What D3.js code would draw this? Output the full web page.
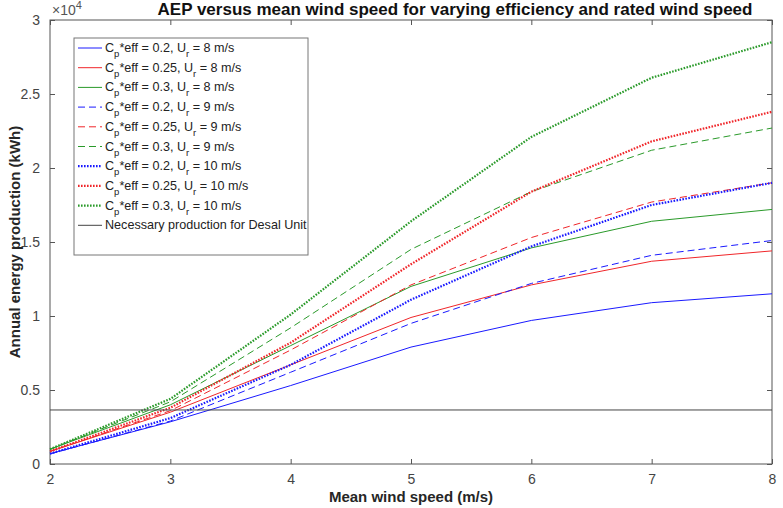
<!DOCTYPE html>
<html>
<head>
<meta charset="utf-8">
<script src="https://cdn.jsdelivr.net/npm/d3@7"></script>
<style>
  body { margin: 0; background: #fff; }
  text { font-family: "Liberation Sans", Arial, sans-serif; }
</style>
</head>
<body>
<svg width="783" height="508"></svg>
<script>
// mean wind speed (m/s)
var windSpeed = [2, 3, 4, 5, 6, 7, 8];

// AEP (kWh)
var cp02_ur8  = [700, 2850, 5300, 7900, 9700, 10900, 11500];
var cp025_ur8 = [850, 3500, 6700, 9900, 12100, 13700, 14400];
var cp03_ur8  = [1000, 4000, 8000, 12000, 14600, 16400, 17200];
var cp02_ur9  = [680, 2900, 6200, 9500, 12200, 14100, 15100];
var cp025_ur9 = [850, 3600, 7700, 12100, 15300, 17700, 19000];
var cp03_ur9  = [1000, 4200, 9200, 14500, 18400, 21200, 22700];
var cp02_ur10  = [700, 3100, 6700, 11100, 14700, 17500, 19000];
var cp025_ur10 = [850, 3800, 8200, 13500, 18400, 21800, 23800];
var cp03_ur10  = [1000, 4400, 10100, 16400, 22100, 26100, 28500];

var desalNeed = 3650;

var xTicks = [2, 3, 4, 5, 6, 7, 8];
var yTicks = [0, 5000, 10000, 15000, 20000, 25000, 30000];

var seriesNames = [
  {cp: '0.2', ur: '8'}, {cp: '0.25', ur: '8'}, {cp: '0.3', ur: '8'},
  {cp: '0.2', ur: '9'}, {cp: '0.25', ur: '9'}, {cp: '0.3', ur: '9'},
  {cp: '0.2', ur: '10'}, {cp: '0.25', ur: '10'}, {cp: '0.3', ur: '10'}
];
var seriesValues = [cp02_ur8, cp025_ur8, cp03_ur8, cp02_ur9, cp025_ur9, cp03_ur9,
                    cp02_ur10, cp025_ur10, cp03_ur10];

var colors = ['#1a1aff', '#f0262a', '#2a9a2a'];
// style per rated speed: solid, dashed, dotted
var dashes = [null, '7,4', '1.6,1.4'];
var widths = [1, 1, 2.2];

var svg = d3.select('svg');

var x = d3.scaleLinear().domain([2, 8]).range([50, 772]);
var y = d3.scaleLinear().domain([0, 30000]).range([464, 20]);

var axisColor = '#555';

// box
svg.append('rect')
  .attr('x', 50).attr('y', 20)
  .attr('width', 722).attr('height', 444)
  .attr('fill', 'none')
  .attr('stroke', axisColor)
  .attr('stroke-width', 1);

// x axis (ticks pointing inward)
var xAxis = d3.axisBottom(x).tickValues(xTicks).tickSizeInner(-5).tickSizeOuter(0)
  .tickPadding(10).tickFormat(d3.format('d'));
var gx = svg.append('g').attr('transform', 'translate(0,464)').call(xAxis);
var gxTop = svg.append('g').attr('transform', 'translate(0,20)')
  .call(d3.axisTop(x).tickValues(xTicks).tickSizeInner(-5).tickSizeOuter(0).tickFormat(''));

// y axis
var yAxis = d3.axisLeft(y).tickValues(yTicks).tickSizeInner(-5).tickSizeOuter(0).tickPadding(10)
  .tickFormat(d => d === 0 ? '0' : d3.format('')(d / 10000));
var gy = svg.append('g').attr('transform', 'translate(50,0)').call(yAxis);
var gyRight = svg.append('g').attr('transform', 'translate(772,0)')
  .call(d3.axisRight(y).tickValues(yTicks).tickSizeInner(-5).tickSizeOuter(0).tickFormat(''));

[gx, gxTop, gy, gyRight].forEach(function(g) {
  g.select('.domain').remove();
  g.selectAll('line').attr('stroke', axisColor);
  g.selectAll('text').attr('fill', '#444').style('font-size', '14px')
    .style('font-family', '"Liberation Sans", Arial, sans-serif');
});

// exponent label
var expo = svg.append('text').attr('x', 52).attr('y', 15)
  .attr('fill', '#555').style('font-size', '14px');
expo.append('tspan').text('\u00d710');
expo.append('tspan').attr('dy', -6).style('font-size', '11px').text('4');

// title
svg.append('text')
  .attr('x', 455).attr('y', 15)
  .attr('text-anchor', 'middle')
  .style('font-weight', 'bold').style('font-size', '17px')
  .attr('fill', '#111')
  .text('AEP versus mean wind speed for varying efficiency and rated wind speed');

// axis labels
svg.append('text')
  .attr('x', 411).attr('y', 502)
  .attr('text-anchor', 'middle')
  .style('font-weight', 'bold').style('font-size', '15px')
  .attr('fill', '#262626')
  .text('Mean wind speed (m/s)');

svg.append('text')
  .attr('transform', 'translate(20,242) rotate(-90)')
  .attr('text-anchor', 'middle')
  .style('font-weight', 'bold').style('font-size', '15px')
  .attr('fill', '#262626')
  .text('Annual energy production (kWh)');

// lines
var line = d3.line()
  .x((d, i) => x(windSpeed[i]))
  .y(d => y(d));

seriesValues.forEach(function(vals, i) {
  var style = Math.floor(i / 3);
  svg.append('path')
    .datum(vals)
    .attr('d', line)
    .attr('fill', 'none')
    .attr('stroke', colors[i % 3])
    .attr('stroke-width', widths[style])
    .attr('stroke-dasharray', dashes[style]);
});

// desal requirement
svg.append('line')
  .attr('x1', x(2)).attr('x2', x(8))
  .attr('y1', y(desalNeed)).attr('y2', y(desalNeed))
  .attr('stroke', '#444').attr('stroke-width', 1);

// legend
var legend = svg.append('g');
legend.append('rect')
  .attr('x', 74).attr('y', 38)
  .attr('width', 234).attr('height', 217)
  .attr('fill', '#fff').attr('stroke', '#777').attr('stroke-width', 1);

var rowH = 19.7;
seriesNames.forEach(function(s, i) {
  var style = Math.floor(i / 3);
  var ry = 48 + i * rowH;
  legend.append('line')
    .attr('x1', 78).attr('x2', 102)
    .attr('y1', ry).attr('y2', ry)
    .attr('stroke', colors[i % 3])
    .attr('stroke-width', widths[style])
    .attr('stroke-dasharray', dashes[style]);
  var t = legend.append('text')
    .attr('x', 105).attr('y', ry + 4)
    .attr('fill', '#222').style('font-size', '12.6px');
  t.append('tspan').text('C');
  t.append('tspan').attr('dy', 5).style('font-size', '9.5px').text('p');
  t.append('tspan').attr('dy', -5).text('*eff = ' + s.cp + ', U');
  t.append('tspan').attr('dy', 5).style('font-size', '9.5px').text('r');
  t.append('tspan').attr('dy', -5).text(' = ' + s.ur + ' m/s');
});

var lastY = 48 + 9 * rowH;
legend.append('line')
  .attr('x1', 78).attr('x2', 102)
  .attr('y1', lastY).attr('y2', lastY)
  .attr('stroke', '#444').attr('stroke-width', 1);
legend.append('text')
  .attr('x', 105).attr('y', lastY + 4)
  .attr('fill', '#222').style('font-size', '12.6px')
  .text('Necessary production for Desal Unit');
</script>
</body>
</html>
